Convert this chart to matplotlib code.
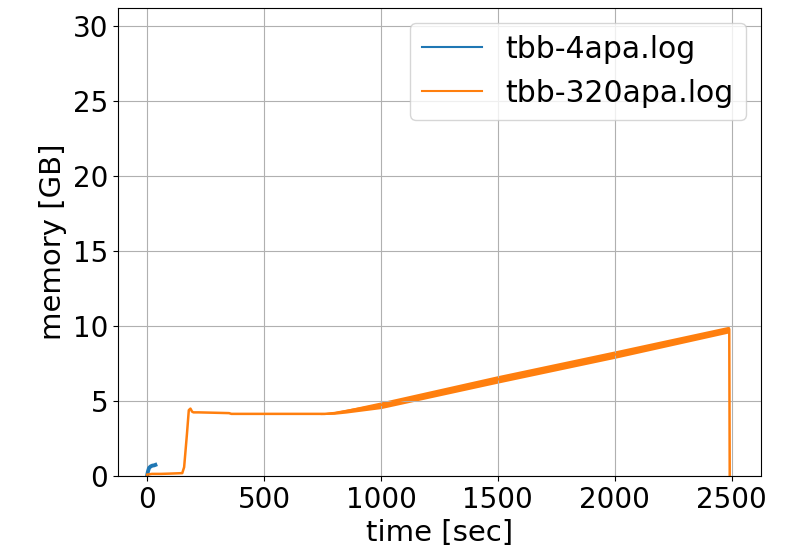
import matplotlib
matplotlib.use("Agg")
import matplotlib.pyplot as plt
import numpy as np

# blue series: tbb-4apa.log
t_4apa = [0, 3, 8, 15, 22, 30, 35]
m_4apa = [0.05, 0.3, 0.55, 0.65, 0.7, 0.72, 0.75]

# orange series: tbb-320apa.log
t_320 = [0, 20, 60, 100, 150, 158, 170, 178, 185, 192, 198, 220, 300, 350, 360, 500, 700, 760, 800, 1000, 1500, 2000, 2490, 2492]
m_320 = [0.1, 0.15, 0.15, 0.17, 0.2, 0.6, 2.8, 4.4, 4.5, 4.3, 4.25, 4.25, 4.22, 4.2, 4.15, 4.15, 4.15, 4.15, 4.2, 4.75, 6.45, 8.1, 9.8, 0.0]

# oscillation envelope of the growing phase
t_band = [740, 800, 850, 1000, 1500, 2000, 2490]
m_band_lo = [4.1, 4.12, 4.2, 4.5, 6.2, 7.85, 9.55]
m_band_hi = [4.2, 4.3, 4.45, 4.95, 6.7, 8.35, 10.0]

plt.rcParams['font.family'] = ['DejaVu Sans']
fig, ax = plt.subplots(figsize=(7.95, 5.53), dpi=100)
fig.subplots_adjust(left=0.1484, right=0.957, top=0.9855, bottom=0.139)

ax.plot(t_4apa, m_4apa, color='#1f77b4', lw=2.8, label='tbb-4apa.log')
ax.plot(t_320, m_320, color='#ff7f0e', lw=1.8, label='tbb-320apa.log')
ax.fill_between(t_band, m_band_lo, m_band_hi, color='#ff7f0e', lw=0)

ax.set_xlim(-125, 2625)
ax.set_ylim(0, 31.2)
ax.set_xticks([0, 500, 1000, 1500, 2000, 2500])
ax.set_yticks([0, 5, 10, 15, 20, 25, 30])
ax.tick_params(labelsize=20)
ax.set_xlabel('time [sec]', fontsize=21)
ax.set_ylabel('memory [GB]', fontsize=21)
ax.grid(True, color='#b0b0b0', lw=0.8)
leg = ax.legend(loc='upper right', fontsize=21.5, handlelength=2.0)
for l in leg.get_lines():
    l.set_linewidth(1.5)

fig.savefig('out.png', dpi=100)
